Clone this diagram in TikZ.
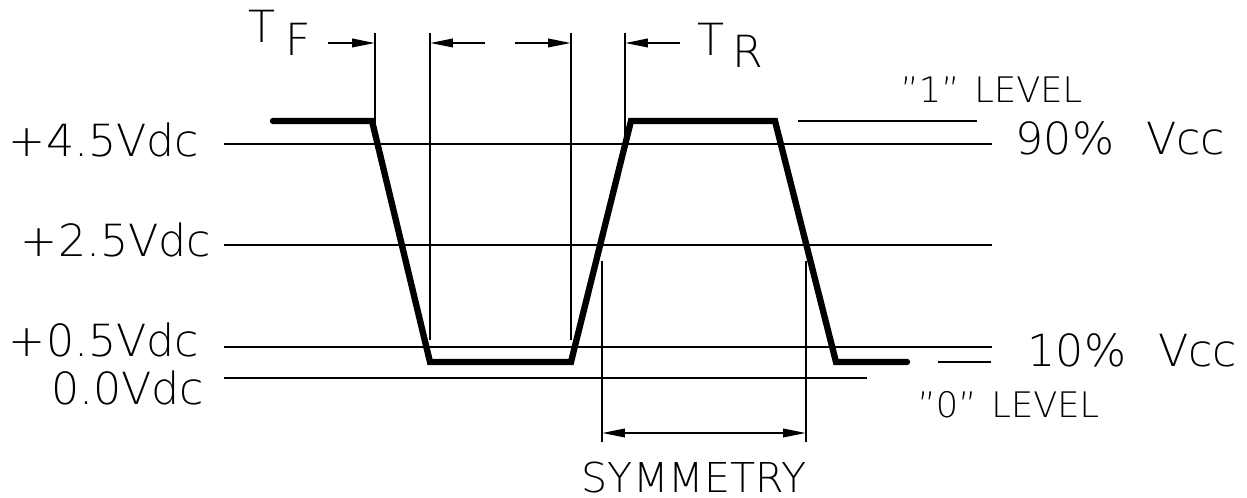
\documentclass[tikz,border=0pt]{standalone}
\usepackage{fontspec}
\setmainfont{DejaVu Sans}[UprightFont={* ExtraLight}]
\usetikzlibrary{arrows.meta}

\begin{document}
\begin{tikzpicture}[x=0.01cm,y=-0.01cm,
  thin/.style={line width=0.6pt},
  wave/.style={line width=1.8pt,line cap=round},
  dim/.style={thin,-{Triangle[length=6.5pt,width=2.4pt]}},
  sym dim/.style={thin,{Triangle[length=6.5pt,width=2.4pt]}-{Triangle[length=6.5pt,width=2.4pt]}},
  lbl/.style={inner sep=0pt,font=\fontsize{12.6}{15}\selectfont},
  lvl/.style={inner sep=0pt,font=\fontsize{10}{12}\selectfont}]
\useasboundingbox (0,0) rectangle (1247,498);

\draw[thin] (224,144) -- (992,144);
\draw[thin] (224,245) -- (992,245);
\draw[thin] (224,347) -- (992,347);
\draw[thin] (224,378) -- (867,378);
\draw[thin] (798,121) -- (977,121);
\draw[thin] (938,362) -- (991,362);

\draw[thin] (375,33) -- (375,133);
\draw[thin] (430,33) -- (430,340);
\draw[thin] (571,33) -- (571,340);
\draw[thin] (625,33) -- (625,137);
\draw[thin] (602,261) -- (602,442);
\draw[thin] (806,261) -- (806,442);

\draw[dim] (328,43) -- (375,43);
\draw[dim] (485,43) -- (430,43);
\draw[dim] (515,43) -- (571,43);
\draw[dim] (680,43) -- (625,43);
\draw[sym dim] (602,433) -- (806,433);

\draw[wave] (273,121) -- (372,121) -- (430,362) -- (571,362) -- (631,121)
  -- (775,121) -- (836,362) -- (907,362);

\node[lbl,anchor=base east] (v45) at (200,157) {+4.5Vdc};
\node[lbl,anchor=base east] (v25) at (212,257) {+2.5Vdc};
\node[lbl,anchor=base east] (v05) at (200,357) {+0.5Vdc};
\node[lbl,anchor=base east] (v00) at (205,405) {0.0Vdc};

\node[lbl,anchor=base east] (p90) at (1226,155) {90\%\hspace{0.32cm}Vcc};
\node[lbl,anchor=base east] (p10) at (1238,367) {10\%\hspace{0.32cm}Vcc};
\node[lvl,anchor=base west] (hi) at (900,103) {''1''\hspace{0.15cm}LEVEL};
\node[lvl,anchor=base west] (lo) at (917,418) {''0''\hspace{0.15cm}LEVEL};

\node[lbl,font=\fontsize{11.7}{14}\selectfont,anchor=base] (sym) at (694,493) {SYMMETRY};
\node[lbl,anchor=base] (tf) at (262,43) {T};
\node[lbl,anchor=base] (tfs) at (298,56) {F};
\node[lbl,anchor=base] (tr) at (711,56) {T};
\node[lbl,anchor=base] (trs) at (748,68) {R};
\end{tikzpicture}
\end{document}
